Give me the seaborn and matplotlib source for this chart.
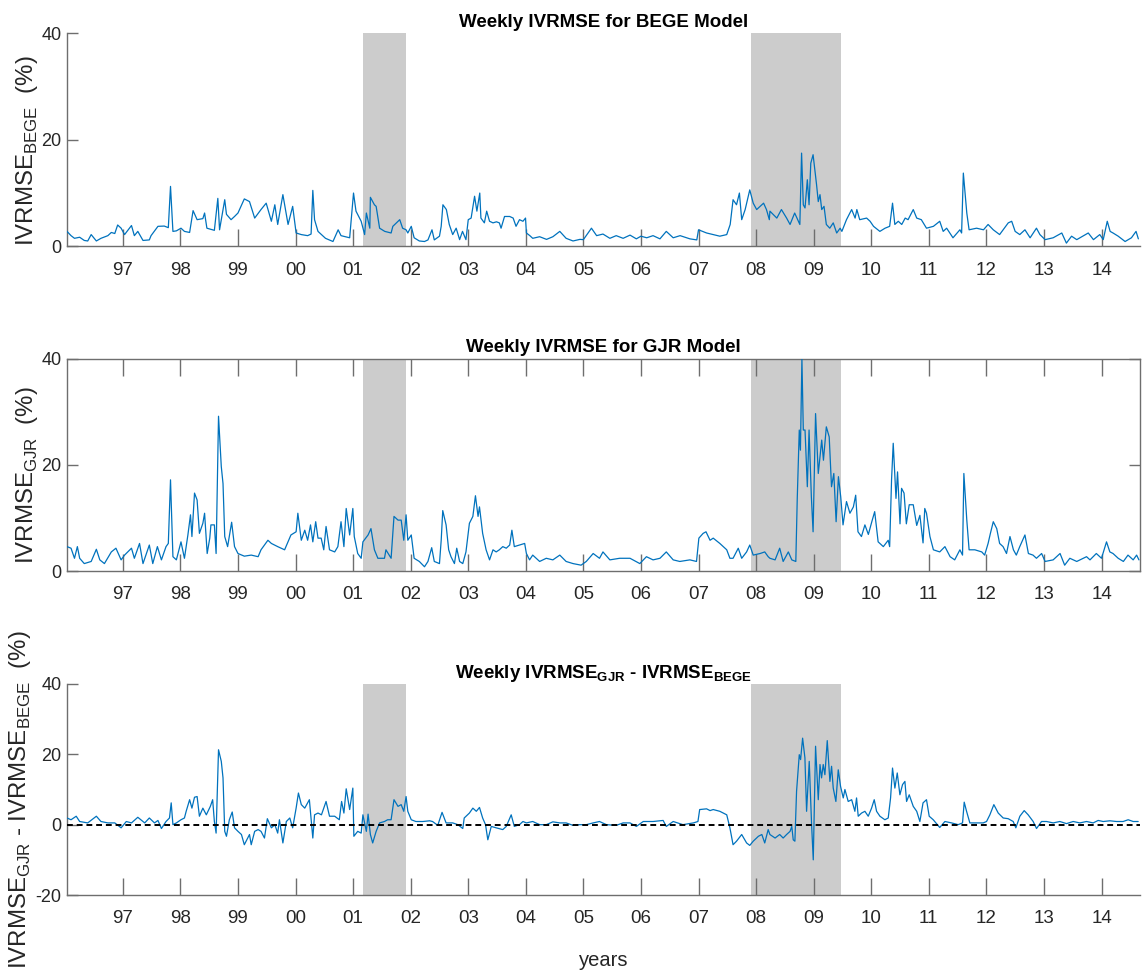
import numpy as np
import pandas as pd
import matplotlib
matplotlib.use("Agg")
import matplotlib.pyplot as plt
import seaborn as sns

# ---- data (decimal year, value in %) ----
bege_pts = [
(1996.03,2.8),(1996.10,2.0),(1996.16,1.5),(1996.25,1.7),(1996.33,1.1),(1996.39,1.0),(1996.45,2.2),(1996.54,1.0),
(1996.62,1.5),(1996.74,2.0),(1996.80,2.6),(1996.86,2.4),(1996.91,4.0),(1996.97,3.4),(1997.03,2.2),(1997.15,3.9),
(1997.20,2.0),(1997.26,2.8),(1997.35,1.1),(1997.46,1.2),(1997.49,2.0),(1997.61,3.75),(1997.72,3.8),(1997.79,3.5),
(1997.828,11.25),(1997.87,2.8),(1997.93,2.9),(1998.01,3.4),(1998.07,2.8),(1998.16,2.6),(1998.22,6.7),(1998.29,5.0),
(1998.39,5.2),(1998.42,6.25),(1998.46,3.4),(1998.59,3.0),(1998.65,9.0),(1998.68,3.1),(1998.77,8.75),(1998.80,6.0),
(1998.88,5.0),(1998.94,5.6),(1999.00,6.25),(1999.11,8.9),(1999.20,8.4),(1999.29,5.3),(1999.40,6.9),(1999.49,8.1),
(1999.58,4.7),(1999.64,7.8),(1999.69,4.1),(1999.78,9.7),(1999.87,4.1),(1999.95,7.5),(2000.01,2.5),(2000.10,2.2),
(2000.21,2.0),(2000.27,2.3),(2000.30,10.5),(2000.33,5.0),(2000.39,2.8),(2000.52,1.5),(2000.65,0.9),(2000.74,3.1),
(2000.79,2.0),(2000.94,1.6),(2001.007,10.0),(2001.05,6.6),(2001.14,4.7),(2001.20,2.2),(2001.23,6.25),(2001.29,3.4),
(2001.30,9.2),(2001.37,7.8),(2001.40,7.5),(2001.46,3.4),(2001.55,2.8),(2001.66,2.5),(2001.69,3.75),(2001.81,5.0),
(2001.86,3.4),(2001.92,3.1),(2001.95,2.5),(2002.01,3.75),(2002.06,1.6),(2002.15,1.0),(2002.24,0.9),(2002.30,1.2),
(2002.37,3.1),(2002.41,1.2),(2002.50,1.9),(2002.53,3.75),(2002.56,7.8),(2002.62,6.9),(2002.67,4.1),(2002.73,2.2),
(2002.79,3.4),(2002.85,1.25),(2002.90,2.8),(2002.96,1.25),(2003.00,5.0),(2003.05,5.3),(2003.11,9.4),(2003.15,6.6),
(2003.20,10.0),(2003.22,5.3),(2003.28,4.4),(2003.32,6.6),(2003.37,4.7),(2003.43,4.4),(2003.49,4.6),(2003.54,4.4),
(2003.57,3.4),(2003.63,5.6),(2003.72,5.6),(2003.78,5.3),(2003.83,3.75),(2003.89,5.0),(2003.95,4.7),(2003.995,5.3),
(2004.01,2.5),(2004.07,2.0),(2004.12,1.5),(2004.24,1.8),(2004.36,1.3),(2004.47,1.8),(2004.59,2.8),(2004.70,1.5),
(2004.82,1.0),(2004.94,1.3),(2005.00,1.25),(2005.14,3.4),(2005.23,2.0),(2005.34,2.3),(2005.46,1.5),(2005.57,2.0),
(2005.69,1.5),(2005.81,2.1),(2005.92,1.4),(2006.00,1.9),(2006.10,1.6),(2006.21,2.0),(2006.33,1.4),(2006.44,2.8),
(2006.56,1.6),(2006.68,2.0),(2006.85,1.4),(2006.97,1.2),(2007.00,3.1),(2007.14,2.5),(2007.37,1.9),(2007.49,2.2),
(2007.55,4.1),(2007.60,8.75),(2007.66,7.8),(2007.71,10.0),(2007.75,5.0),(2007.81,6.9),(2007.89,10.6),(2007.95,8.1),
(2008.01,6.9),(2008.07,7.5),(2008.13,8.1),(2008.18,6.9),(2008.23,5.0),(2008.24,6.6),(2008.36,5.3),(2008.44,6.9),
(2008.53,5.3),(2008.59,4.1),(2008.67,6.25),(2008.76,4.1),(2008.79,17.5),(2008.82,7.8),(2008.85,7.2),(2008.89,12.5),
(2008.92,7.8),(2008.95,15.6),(2008.99,17.2),(2009.05,11.6),(2009.08,8.4),(2009.11,9.7),(2009.14,6.9),(2009.18,7.5),
(2009.22,4.1),(2009.28,3.4),(2009.34,4.4),(2009.40,2.5),(2009.46,3.4),(2009.49,2.8),(2009.57,5.0),(2009.66,6.9),
(2009.72,5.3),(2009.75,6.9),(2009.80,5.0),(2009.92,5.3),(2009.98,4.7),(2010.04,3.75),(2010.15,2.8),(2010.24,3.4),
(2010.32,3.75),(2010.37,8.1),(2010.41,4.1),(2010.47,4.7),(2010.53,4.1),(2010.59,5.3),(2010.64,5.0),(2010.73,6.9),
(2010.79,5.3),(2010.87,5.0),(2010.96,3.4),(2011.08,3.75),(2011.19,4.7),(2011.25,2.8),(2011.31,3.4),(2011.42,1.6),
(2011.54,3.1),(2011.57,2.5),(2011.60,13.75),(2011.66,6.25),(2011.70,3.1),(2011.83,3.4),(2011.95,3.1),(2012.03,4.1),
(2012.12,3.1),(2012.23,2.2),(2012.38,4.4),(2012.44,4.7),(2012.50,2.8),(2012.58,2.2),(2012.67,3.1),(2012.76,1.6),
(2012.87,3.4),(2012.93,2.2),(2013.02,1.25),(2013.16,1.6),(2013.31,2.5),(2013.39,0.6),(2013.48,1.9),(2013.57,1.25),
(2013.77,2.5),(2013.86,1.25),(2013.97,2.2),(2014.03,1.25),(2014.10,4.7),(2014.15,2.8),(2014.20,2.5),(2014.29,1.9),
(2014.41,0.9),(2014.52,1.6),(2014.60,2.8),(2014.64,1.4),
]

gjr_pts = [
(1996.03,4.6),(1996.10,4.3),(1996.16,2.4),(1996.21,4.6),(1996.25,2.4),(1996.33,1.4),(1996.45,1.8),(1996.54,4.1),
(1996.60,2.1),(1996.68,1.4),(1996.80,3.6),(1996.88,4.3),(1996.97,2.1),(1997.03,3.0),(1997.15,4.3),(1997.20,2.4),
(1997.29,5.2),(1997.35,1.4),(1997.46,4.9),(1997.52,1.4),(1997.60,4.6),(1997.67,2.1),(1997.75,4.6),(1997.79,5.2),
(1997.828,17.2),(1997.87,2.7),(1997.93,2.1),(1998.01,5.5),(1998.07,2.4),(1998.13,6.8),(1998.175,10.6),(1998.20,6.5),
(1998.245,14.7),(1998.29,13.4),(1998.33,7.1),(1998.39,9.0),(1998.42,10.9),(1998.465,3.3),(1998.51,6.2),(1998.53,8.7),
(1998.59,8.7),(1998.62,3.3),(1998.662,29.2),(1998.71,19.7),(1998.74,16.5),(1998.77,6.5),(1998.82,4.6),(1998.89,9.2),
(1998.94,4.6),(1999.00,3.3),(1999.11,2.8),(1999.23,3.0),(1999.35,2.7),(1999.40,4.0),(1999.52,5.8),(1999.58,5.2),
(1999.69,4.6),(1999.81,4.0),(1999.92,6.8),(2000.01,7.4),(2000.04,10.9),(2000.10,5.8),(2000.16,7.7),(2000.21,5.8),
(2000.26,8.7),(2000.30,5.5),(2000.35,9.3),(2000.39,6.2),(2000.445,6.2),(2000.49,4.0),(2000.53,8.4),(2000.59,4.0),
(2000.68,3.6),(2000.735,4.6),(2000.79,9.3),(2000.84,4.6),(2000.88,11.8),(2000.94,6.8),(2000.995,11.8),(2001.02,6.5),
(2001.08,3.3),(2001.14,2.4),(2001.17,5.5),(2001.26,6.8),(2001.31,8.0),(2001.37,4.0),(2001.43,2.4),(2001.545,2.4),
(2001.57,4.0),(2001.66,2.4),(2001.71,10.3),(2001.78,9.6),(2001.835,9.6),(2001.88,5.8),(2001.92,10.6),(2001.95,5.8),
(2002.01,6.8),(2002.06,2.4),(2002.15,1.8),(2002.24,0.8),(2002.30,1.8),(2002.365,4.4),(2002.41,1.8),(2002.50,1.4),
(2002.53,5.8),(2002.557,11.4),(2002.615,8.7),(2002.66,4.0),(2002.70,2.7),(2002.76,1.4),(2002.80,4.3),(2002.85,1.8),
(2002.905,1.4),(2002.96,3.6),(2003.02,9.0),(2003.08,10.3),(2003.125,14.2),(2003.17,10.3),(2003.195,12.1),(2003.25,7.1),
(2003.31,4.0),(2003.37,2.1),(2003.43,4.0),(2003.485,3.6),(2003.54,4.0),(2003.60,4.6),(2003.66,4.3),(2003.72,4.9),
(2003.758,7.7),(2003.80,4.6),(2003.89,4.9),(2003.98,5.2),(2004.01,3.3),(2004.065,2.1),(2004.12,3.0),(2004.24,1.8),
(2004.355,2.4),(2004.47,2.1),(2004.59,3.0),(2004.70,1.8),(2004.82,1.4),(2004.96,1.1),(2005.05,1.8),(2005.17,3.3),
(2005.28,2.4),(2005.34,3.6),(2005.46,2.1),(2005.63,2.4),(2005.81,2.4),(2005.98,1.4),(2006.095,2.7),(2006.21,2.1),
(2006.33,2.4),(2006.44,3.6),(2006.56,2.1),(2006.675,1.8),(2006.85,2.1),(2006.965,1.8),(2007.006,6.2),(2007.08,7.1),
(2007.13,7.4),(2007.20,5.8),(2007.255,6.2),(2007.37,5.2),(2007.49,4.0),(2007.545,2.4),(2007.60,2.4),(2007.69,4.3),
(2007.75,2.4),(2007.835,3.6),(2007.89,4.9),(2007.95,3.0),(2008.07,3.3),(2008.15,3.6),(2008.21,2.7),(2008.24,2.4),
(2008.33,2.1),(2008.41,4.3),(2008.47,1.8),(2008.56,3.6),(2008.62,2.1),(2008.69,1.8),(2008.715,13.7),(2008.75,26.6),
(2008.77,22.8),(2008.796,40.0),(2008.82,26.6),(2008.85,26.6),(2008.89,15.9),(2008.92,26.6),(2008.96,14.0),(2008.99,7.4),
(2009.033,29.7),(2009.08,18.4),(2009.11,21.5),(2009.14,24.7),(2009.17,20.9),(2009.22,27.2),(2009.27,25.3),(2009.31,15.9),
(2009.35,18.4),(2009.39,9.3),(2009.43,17.8),(2009.47,14.0),(2009.51,8.7),(2009.57,13.1),(2009.63,10.9),(2009.69,12.1),
(2009.73,14.3),(2009.77,7.4),(2009.83,6.5),(2009.89,8.7),(2009.95,6.9),(2010.01,9.3),(2010.06,11.2),(2010.12,5.5),
(2010.21,4.6),(2010.295,5.8),(2010.32,4.6),(2010.353,17.2),(2010.382,24.1),(2010.43,13.7),(2010.457,18.7),(2010.50,8.9),
(2010.527,15.6),(2010.57,14.7),(2010.61,8.9),(2010.66,12.5),(2010.73,12.5),(2010.79,8.6),(2010.845,10.5),(2010.90,5.3),
(2010.93,11.8),(2010.96,10.9),(2011.02,6.5),(2011.08,4.0),(2011.19,3.6),(2011.28,4.6),(2011.37,2.7),(2011.45,2.1),
(2011.54,4.0),(2011.586,3.0),(2011.609,18.4),(2011.66,9.6),(2011.70,4.0),(2011.80,4.0),(2011.92,3.6),(2011.97,3.0),
(2012.03,5.2),(2012.07,7.1),(2012.12,9.3),(2012.18,8.0),(2012.23,5.2),(2012.29,4.6),(2012.35,3.3),(2012.41,6.5),
(2012.47,4.0),(2012.52,3.0),(2012.58,4.6),(2012.67,6.8),(2012.73,3.3),(2012.81,3.0),(2012.87,2.4),(2012.96,3.3),
(2013.02,1.8),(2013.16,2.1),(2013.28,3.3),(2013.36,1.1),(2013.45,2.4),(2013.57,1.8),(2013.74,2.7),(2013.80,2.1),
(2013.91,3.3),(2014.00,2.4),(2014.087,5.5),(2014.145,3.6),(2014.20,3.3),(2014.29,2.4),(2014.38,1.8),(2014.46,3.0),
(2014.55,2.1),(2014.61,3.0),(2014.65,2.1),
]

diff_pts = [
(1996.03,1.9),(1996.10,1.4),(1996.19,2.4),(1996.25,0.9),(1996.39,0.5),(1996.54,2.4),(1996.62,0.9),(1996.74,0.5),
(1996.86,0.5),(1996.97,-0.9),(1997.06,0.9),(1997.15,0.5),(1997.26,2.1),(1997.38,0.5),(1997.46,1.9),(1997.55,0.5),
(1997.61,1.2),(1997.67,-1.1),(1997.75,0.9),(1997.81,1.9),(1997.84,6.2),(1997.87,0.0),(1997.93,0.5),(1998.01,1.4),
(1998.07,1.9),(1998.10,3.8),(1998.16,7.1),(1998.20,4.7),(1998.245,7.8),(1998.29,8.0),(1998.33,2.4),(1998.39,4.7),
(1998.45,2.8),(1998.52,5.2),(1998.56,7.1),(1998.59,0.9),(1998.62,-2.4),(1998.662,21.3),(1998.71,18.0),(1998.74,13.3),
(1998.77,-1.9),(1998.80,-3.3),(1998.85,1.4),(1998.90,3.6),(1998.94,-0.9),(1999.00,-1.9),(1999.06,-2.8),(1999.11,-5.7),
(1999.20,-2.8),(1999.23,-5.7),(1999.29,-1.9),(1999.35,-1.4),(1999.40,-1.9),(1999.46,-3.8),(1999.51,1.7),(1999.58,-0.9),
(1999.64,0.0),(1999.69,-2.4),(1999.72,1.4),(1999.78,-5.2),(1999.84,0.9),(1999.90,1.9),(1999.95,-0.9),(2000.01,4.7),
(2000.05,9.0),(2000.10,5.7),(2000.16,4.7),(2000.24,7.1),(2000.30,-3.8),(2000.33,2.8),(2000.39,3.3),(2000.45,2.8),
(2000.53,6.6),(2000.59,2.4),(2000.68,2.4),(2000.76,1.4),(2000.80,6.6),(2000.84,3.3),(2000.88,10.2),(2000.94,4.3),
(2000.995,10.4),(2001.013,-3.3),(2001.08,-1.9),(2001.14,-2.4),(2001.17,2.8),(2001.23,-1.9),(2001.26,3.0),(2001.30,-2.8),
(2001.34,-5.2),(2001.40,-1.9),(2001.46,0.5),(2001.545,0.9),(2001.60,1.4),(2001.66,1.4),(2001.71,7.1),(2001.78,5.2),
(2001.835,5.7),(2001.88,3.8),(2001.92,8.0),(2001.95,3.8),(2002.01,1.4),(2002.09,0.9),(2002.21,0.9),(2002.33,1.1),
(2002.38,0.9),(2002.47,-0.2),(2002.545,3.5),(2002.615,0.5),(2002.73,0.5),(2002.82,0.0),(2002.905,-1.1),(2002.93,1.9),
(2003.02,3.3),(2003.08,4.7),(2003.14,3.8),(2003.195,4.9),(2003.25,1.9),(2003.30,0.0),(2003.34,-4.3),(2003.40,-0.5),
(2003.485,-0.9),(2003.60,-1.4),(2003.66,-0.5),(2003.746,2.8),(2003.80,-0.5),(2003.89,0.0),(2003.95,0.9),(2004.01,0.5),
(2004.12,0.9),(2004.24,0.0),(2004.355,0.0),(2004.47,0.8),(2004.59,0.5),(2004.70,0.5),(2004.82,-0.2),(2004.935,0.0),
(2005.05,0.0),(2005.17,0.5),(2005.28,0.9),(2005.40,0.0),(2005.57,-0.2),(2005.69,0.5),(2005.81,0.5),(2005.92,-0.5),
(2006.04,0.9),(2006.21,0.9),(2006.385,1.2),(2006.44,-0.5),(2006.56,0.9),(2006.73,0.0),(2006.91,0.5),(2006.99,0.9),
(2007.02,4.3),(2007.14,4.5),(2007.20,4.0),(2007.255,4.3),(2007.37,3.8),(2007.49,2.8),(2007.545,-0.9),(2007.60,-5.7),
(2007.66,-4.7),(2007.75,-2.8),(2007.835,-5.2),(2007.89,-5.9),(2007.95,-4.7),(2008.04,-3.3),(2008.10,-2.8),(2008.15,-5.2),
(2008.21,-1.4),(2008.24,-2.8),(2008.33,-3.8),(2008.41,-2.8),(2008.47,-3.8),(2008.53,-2.8),(2008.59,-1.9),(2008.62,-0.5),
(2008.645,-4.3),(2008.674,-4.7),(2008.703,9.5),(2008.75,19.9),(2008.773,18.5),(2008.808,24.6),(2008.848,19.0),(2008.877,3.8),
(2008.923,18.0),(2008.964,0.0),(2008.993,-10.0),(2009.033,22.3),(2009.08,7.1),(2009.11,17.1),(2009.137,13.3),(2009.166,17.1),
(2009.195,14.2),(2009.236,23.9),(2009.282,12.3),(2009.311,16.6),(2009.34,10.4),(2009.386,6.6),(2009.427,15.6),(2009.467,10.9),
(2009.514,7.6),(2009.543,10.0),(2009.60,6.6),(2009.66,7.1),(2009.716,3.8),(2009.745,7.6),(2009.774,2.4),(2009.832,3.3),
(2009.89,3.8),(2009.948,2.4),(2010.006,4.7),(2010.052,7.1),(2010.093,3.8),(2010.151,2.4),(2010.237,1.4),(2010.295,1.9),
(2010.336,7.6),(2010.37,16.1),(2010.411,10.4),(2010.452,14.7),(2010.498,8.5),(2010.544,11.4),(2010.585,12.3),(2010.614,6.6),
(2010.66,8.5),(2010.73,5.2),(2010.79,3.8),(2010.845,0.9),(2010.90,6.2),(2010.96,7.1),(2011.007,2.4),(2011.077,1.4),
(2011.19,-0.8),(2011.28,0.9),(2011.395,0.5),(2011.51,0.0),(2011.586,0.5),(2011.615,6.4),(2011.656,3.8),(2011.713,0.5),
(2011.83,0.5),(2011.945,0.5),(2012.003,0.9),(2012.061,2.8),(2012.13,5.7),(2012.206,3.3),(2012.292,1.9),(2012.379,1.7),
(2012.466,0.9),(2012.512,-0.9),(2012.582,2.4),(2012.657,4.0),(2012.726,2.8),(2012.813,0.9),(2012.871,-1.1),(2012.958,0.9),
(2013.045,0.9),(2013.161,0.5),(2013.276,0.9),(2013.392,0.3),(2013.508,0.9),(2013.624,0.5),(2013.74,0.9),(2013.855,0.5),
(2013.942,1.2),(2014.029,0.9),(2014.145,1.1),(2014.26,0.9),(2014.376,0.9),(2014.463,1.4),(2014.55,0.9),(2014.637,0.9),
]

recessions = [(2001.17, 2001.92), (2007.92, 2009.48)]
year_ticks = list(range(1997, 2015))
year_labels = ["97", "98", "99", "00", "01", "02", "03", "04", "05",
               "06", "07", "08", "09", "10", "11", "12", "13", "14"]
x_range = (1996.03, 2014.66)

titles = ["Weekly IVRMSE for BEGE Model",
          "Weekly IVRMSE for GJR Model",
          r"Weekly IVRMSE$_{\mathregular{GJR}}$ - IVRMSE$_{\mathregular{BEGE}}$"]
ylabels = [r"IVRMSE$_{\mathregular{BEGE}}$  (%)",
           r"IVRMSE$_{\mathregular{GJR}}$  (%)",
           r"IVRMSE$_{\mathregular{GJR}}$ - IVRMSE$_{\mathregular{BEGE}}$  (%)"]
yticks = [[0, 20, 40], [0, 20, 40], [-20, 0, 20, 40]]
ylims = [(0, 40), (0, 40), (-20, 40)]

# ---- style ----
sns.set_theme(style="white")
REG = ["Liberation Sans", "DejaVu Sans"]
plt.rcParams["font.family"] = REG
plt.rcParams["mathtext.fontset"] = "custom"
plt.rcParams["mathtext.rm"] = "Liberation Sans"
plt.rcParams["mathtext.bf"] = "Liberation Sans:bold"
plt.rcParams["axes.unicode_minus"] = False

LINE = "#0072BD"
AXC = "#6e6e6e"
TXT = "#262626"

fig = plt.figure(figsize=(11.44, 9.74), dpi=100)
W, H = 1144.0, 974.0
boxes = [(67, 33.3, 1139.5, 246.3), (67, 359, 1139.5, 571), (67, 684, 1139.5, 895)]
series = [bege_pts, gjr_pts, diff_pts]
title_y = [1.029, 1.033, 1.027]
label_x = [-0.0255, -0.0255, -0.032]
label_y = [0.45, 0.45, 0.45]

for i, (x0, y0, x1, y1) in enumerate(boxes):
    ax = fig.add_axes([x0 / W, 1 - y1 / H, (x1 - x0) / W, (y1 - y0) / H])
    for a, b in recessions:
        ax.axvspan(a, b, color="#cccccc", lw=0, zorder=0)
    df = pd.DataFrame(series[i], columns=["year", "value"])
    sns.lineplot(data=df, x="year", y="value", ax=ax, color=LINE, lw=0.9,
                 estimator=None, sort=False, zorder=3)
    if i == 2:
        ax.axhline(0, color="black", lw=1.4, ls=(0, (3, 2)), zorder=4)
    ax.set_xlim(*x_range)
    ax.set_ylim(*ylims[i])
    ax.set_xticks(year_ticks)
    ax.set_xticklabels(year_labels)
    ax.set_yticks(yticks[i])
    ax.set_xlabel("")
    ax.set_ylabel(ylabels[i], fontsize=17.3, color=TXT)
    ax.yaxis.set_label_coords(label_x[i], label_y[i])
    boxed = (i == 1)
    for s in ["top", "right"]:
        ax.spines[s].set_visible(boxed)
    for s in ax.spines.values():
        s.set_color(AXC)
        s.set_linewidth(1.0)
    ax.tick_params(axis="x", direction="in", length=12.2, width=1.0, color=AXC,
                   labelsize=13.5, labelcolor=TXT, pad=11, top=boxed, bottom=True)
    ax.tick_params(axis="y", direction="in", length=7.9, width=1.0, color=AXC,
                   labelsize=13, labelcolor=TXT, pad=4, right=boxed, left=True)
    ax.text(0.5, title_y[i], titles[i], transform=ax.transAxes, ha="center",
            va="baseline", fontsize=13.5, fontweight="bold", color="black")
    ax.grid(False)
    if i == 2:
        ax.set_xlabel("years", fontsize=14.5, color=TXT, labelpad=17)

fig.savefig("out.png", dpi=100)
